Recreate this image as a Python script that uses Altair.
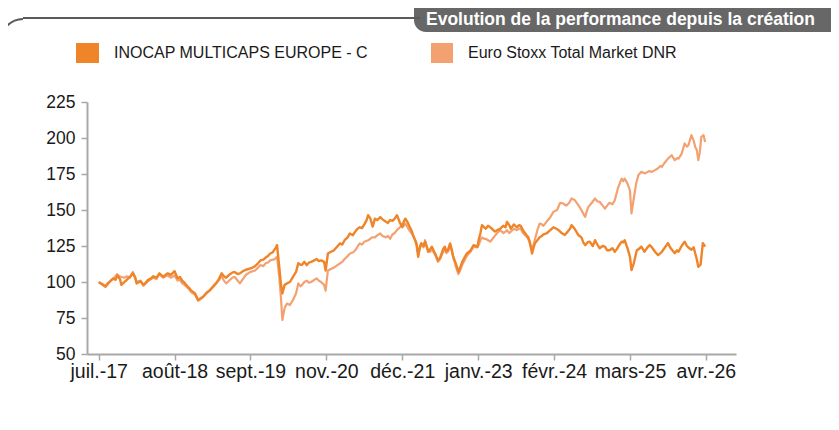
import json
import altair as alt
import pandas as pd

# ---------------- data ----------------
series_names = ["INOCAP MULTICAPS EUROPE - C", "Euro Stoxx Total Market DNR"]
series_colors = ["#EF8428", "#F4A172"]
tick_labels = ["juil.-17", "août-18", "sept.-19", "nov.-20", "déc.-21",
               "janv.-23", "févr.-24", "mars-25", "avr.-26"]
y_ticks = [50, 75, 100, 125, 150, 175, 200, 225]
header_text = "Evolution de la performance depuis la création"

# position along the time axis, in tick intervals (0 = juil.-17 ... 8 = avr.-26)
fund_t = [0.00, 0.03, 0.05, 0.09, 0.11, 0.13, 0.16, 0.19, 0.22, 0.25, 0.28, 0.30, 0.33, 0.37, 0.41,
          0.45, 0.48, 0.50, 0.55, 0.59, 0.62, 0.65, 0.69, 0.72, 0.76, 0.80, 0.85, 0.88, 0.91, 0.95,
          1.00, 1.04, 1.07, 1.10, 1.13, 1.16, 1.19, 1.22, 1.27, 1.31, 1.34, 1.38, 1.42, 1.46, 1.50,
          1.55, 1.58, 1.62, 1.65, 1.68, 1.72, 1.76, 1.79, 1.83, 1.86, 1.90, 1.94, 2.00, 2.03, 2.06,
          2.10, 2.13, 2.17, 2.20, 2.23, 2.26, 2.29, 2.31, 2.33, 2.35, 2.38, 2.40, 2.42, 2.45, 2.48,
          2.52, 2.56, 2.60, 2.63, 2.66, 2.68, 2.71, 2.74, 2.77, 2.80, 2.84, 2.87, 2.90, 2.93, 2.97,
          2.99, 3.02, 3.06, 3.10, 3.14, 3.18, 3.21, 3.24, 3.28, 3.31, 3.35, 3.38, 3.41, 3.44, 3.47,
          3.50, 3.53, 3.55, 3.58, 3.61, 3.64, 3.67, 3.71, 3.74, 3.78, 3.81, 3.84, 3.87, 3.90, 3.93,
          3.97, 4.00, 4.02, 4.04, 4.07, 4.09, 4.12, 4.15, 4.17, 4.19, 4.21, 4.23, 4.25, 4.28, 4.30,
          4.32, 4.34, 4.37, 4.39, 4.42, 4.44, 4.47, 4.50, 4.52, 4.54, 4.56, 4.58, 4.60, 4.63, 4.65,
          4.67, 4.69, 4.71, 4.74, 4.77, 4.79, 4.82, 4.85, 4.88, 4.90, 4.94, 4.99, 5.01, 5.03, 5.05,
          5.08, 5.10, 5.13, 5.16, 5.19, 5.22, 5.25, 5.29, 5.33, 5.36, 5.38, 5.41, 5.43, 5.47, 5.51,
          5.54, 5.56, 5.59, 5.63, 5.66, 5.68, 5.71, 5.73, 5.75, 5.78, 5.81, 5.84, 5.86, 5.90, 5.95,
          5.99, 6.03, 6.06, 6.10, 6.14, 6.18, 6.21, 6.23, 6.27, 6.32, 6.36, 6.39, 6.41, 6.44, 6.47,
          6.51, 6.54, 6.57, 6.60, 6.64, 6.67, 6.70, 6.73, 6.77, 6.80, 6.83, 6.85, 6.89, 6.91, 6.93,
          6.97, 7.00, 7.02, 7.05, 7.09, 7.12, 7.15, 7.19, 7.23, 7.26, 7.29, 7.33, 7.37, 7.40, 7.42,
          7.46, 7.50, 7.53, 7.55, 7.59, 7.62, 7.64, 7.68, 7.72, 7.75, 7.77, 7.81, 7.84, 7.86, 7.88,
          7.90, 7.93, 7.96, 7.99]
fund_v = [100.0, 99.0, 98.5, 97.0, 98.5, 99.5, 101.0, 102.5, 101.5, 104.5, 102.0, 98.0, 99.5, 101.5, 103.5,
          106.0, 103.0, 99.0, 100.5, 98.0, 99.5, 101.5, 102.5, 104.0, 103.0, 106.0, 103.5, 105.0, 106.0, 105.0,
          107.5, 102.5, 103.5, 101.0, 99.5, 97.5, 96.0, 94.0, 92.0, 87.5, 88.5, 90.0, 92.5, 94.0, 96.5,
          99.5, 101.5, 106.0, 104.0, 103.0, 105.0, 106.5, 107.0, 105.5, 106.0, 107.5, 108.5, 109.5, 110.0, 111.0,
          113.0, 115.0, 115.5, 117.0, 118.0, 119.8, 120.5, 122.0, 123.5, 125.6, 110.0, 99.0, 92.0, 98.0, 99.0,
          100.0, 103.6, 107.0, 113.0, 112.0, 112.0, 114.0, 111.7, 113.5, 114.0, 115.0, 116.0, 114.5, 115.0, 114.0,
          108.0, 119.8, 121.0, 122.0, 124.5, 126.8, 126.0, 129.0, 131.0, 133.7, 132.5, 135.0, 137.0, 138.0, 137.5,
          140.0, 143.0, 146.4, 144.0, 138.5, 144.0, 143.0, 145.0, 143.5, 142.0, 141.0, 143.0, 142.5, 144.0, 146.4,
          141.0, 138.0, 142.0, 144.0, 141.5, 139.0, 136.0, 131.4, 129.0, 125.0, 117.5, 124.0, 127.0, 125.0, 128.0,
          125.0, 121.0, 123.0, 124.5, 121.0, 119.0, 115.0, 117.0, 120.0, 123.0, 124.5, 121.5, 122.0, 126.8, 123.0,
          118.0, 115.0, 112.0, 107.0, 111.0, 114.0, 117.0, 119.8, 121.0, 122.0, 125.6, 124.5, 130.0, 134.0, 139.5,
          138.0, 137.0, 139.0, 138.0, 136.5, 135.0, 136.0, 137.0, 139.0, 138.0, 141.8, 139.5, 137.0, 140.0, 138.0,
          139.5, 139.0, 136.0, 133.0, 131.0, 128.0, 119.8, 124.0, 127.0, 129.0, 131.0, 132.0, 133.0, 133.7, 136.0,
          138.0, 137.0, 136.0, 134.0, 132.6, 135.0, 137.0, 139.5, 137.0, 132.6, 131.0, 127.0, 125.6, 127.5, 128.0,
          125.0, 129.0, 126.0, 123.5, 125.0, 124.6, 122.0, 122.0, 123.5, 121.0, 123.0, 125.0, 128.0, 127.5, 129.0,
          123.0, 117.5, 108.3, 113.0, 122.0, 123.0, 124.6, 121.0, 124.0, 125.6, 124.0, 121.0, 118.7, 120.0, 121.0,
          124.0, 127.0, 124.0, 122.5, 120.0, 122.0, 121.0, 125.0, 128.0, 125.0, 124.0, 122.4, 124.0, 119.8, 116.0,
          110.6, 112.0, 127.0, 124.6]

bench_t = [0.00, 0.03, 0.05, 0.09, 0.13, 0.16, 0.19, 0.24, 0.27, 0.30, 0.34, 0.37, 0.41, 0.45, 0.48,
           0.50, 0.55, 0.59, 0.62, 0.65, 0.69, 0.72, 0.76, 0.80, 0.85, 0.88, 0.91, 0.95, 1.00, 1.04,
           1.07, 1.10, 1.13, 1.16, 1.19, 1.22, 1.27, 1.31, 1.34, 1.38, 1.42, 1.46, 1.50, 1.55, 1.58,
           1.62, 1.65, 1.68, 1.72, 1.76, 1.79, 1.83, 1.86, 1.90, 1.94, 2.00, 2.03, 2.06, 2.10, 2.13,
           2.17, 2.20, 2.23, 2.26, 2.29, 2.31, 2.33, 2.35, 2.38, 2.40, 2.42, 2.45, 2.48, 2.52, 2.56,
           2.60, 2.63, 2.66, 2.68, 2.71, 2.74, 2.77, 2.80, 2.84, 2.87, 2.90, 2.93, 2.97, 2.99, 3.02,
           3.06, 3.10, 3.14, 3.18, 3.21, 3.24, 3.28, 3.31, 3.35, 3.38, 3.41, 3.44, 3.47, 3.50, 3.55,
           3.58, 3.60, 3.64, 3.67, 3.71, 3.74, 3.78, 3.81, 3.84, 3.87, 3.90, 3.93, 3.97, 4.00, 4.02,
           4.04, 4.07, 4.09, 4.12, 4.15, 4.17, 4.19, 4.21, 4.23, 4.25, 4.28, 4.30, 4.32, 4.34, 4.37,
           4.39, 4.42, 4.44, 4.47, 4.50, 4.52, 4.54, 4.56, 4.58, 4.60, 4.63, 4.65, 4.67, 4.69, 4.71,
           4.74, 4.77, 4.79, 4.82, 4.85, 4.88, 4.90, 4.94, 4.99, 5.01, 5.03, 5.05, 5.08, 5.10, 5.13,
           5.16, 5.19, 5.22, 5.25, 5.29, 5.33, 5.36, 5.38, 5.41, 5.43, 5.47, 5.51, 5.54, 5.56, 5.59,
           5.63, 5.66, 5.68, 5.71, 5.73, 5.75, 5.78, 5.81, 5.84, 5.86, 5.90, 5.95, 5.99, 6.04, 6.08,
           6.12, 6.16, 6.20, 6.23, 6.27, 6.32, 6.36, 6.39, 6.41, 6.43, 6.45, 6.49, 6.54, 6.57, 6.60,
           6.64, 6.67, 6.70, 6.73, 6.77, 6.80, 6.84, 6.87, 6.89, 6.91, 6.93, 6.97, 7.00, 7.02, 7.05,
           7.08, 7.11, 7.15, 7.20, 7.25, 7.29, 7.33, 7.37, 7.40, 7.42, 7.46, 7.50, 7.55, 7.59, 7.62,
           7.64, 7.68, 7.72, 7.75, 7.77, 7.81, 7.84, 7.86, 7.88, 7.90, 7.92, 7.94, 7.97, 7.99]
bench_v = [99.5, 99.0, 98.0, 96.5, 99.0, 101.0, 102.0, 105.5, 104.0, 103.5, 103.0, 104.0, 103.0, 107.0, 103.5,
           100.0, 101.0, 97.5, 99.0, 100.5, 102.0, 103.0, 102.0, 105.5, 103.0, 104.0, 104.5, 103.0, 104.5, 101.0,
           101.5, 99.0, 98.0, 96.5, 95.0, 93.0, 91.0, 87.0, 88.0, 90.0, 92.0, 94.0, 96.0, 99.0, 101.0,
           104.0, 101.0, 99.0, 101.0, 103.0, 103.6, 101.0, 99.0, 102.0, 105.0, 107.0, 107.5, 108.0, 110.0, 111.7,
           111.0, 113.0, 113.5, 115.0, 115.5, 115.5, 116.5, 117.5, 103.0, 90.0, 73.6, 82.0, 85.0, 84.0, 87.5,
           92.0, 99.0, 97.0, 98.0, 100.0, 101.0, 99.5, 100.0, 101.5, 102.5, 101.0, 100.0, 98.0, 94.0, 108.0,
           109.0, 110.0, 111.5, 113.0, 114.0, 116.0, 118.0, 119.8, 120.5, 122.0, 124.5, 126.8, 126.0, 128.0, 129.0,
           130.0, 131.0, 131.0, 132.5, 133.7, 132.0, 131.0, 132.0, 130.0, 133.0, 134.0, 136.0, 138.0, 140.6, 139.0,
           140.6, 138.0, 136.0, 134.0, 131.4, 129.0, 127.0, 119.0, 123.0, 126.0, 124.0, 129.0, 125.0, 122.0, 121.0,
           123.0, 120.0, 118.0, 114.0, 116.0, 119.0, 121.0, 123.0, 120.0, 121.0, 125.0, 122.0, 117.0, 114.0, 110.0,
           105.5, 109.0, 112.0, 115.0, 118.0, 120.0, 121.0, 124.5, 124.0, 126.0, 129.0, 131.0, 130.0, 130.0, 129.0,
           128.0, 130.0, 132.0, 134.0, 136.0, 134.0, 135.0, 136.0, 134.0, 135.0, 137.0, 136.0, 137.0, 137.0, 134.0,
           132.0, 130.0, 126.8, 122.0, 126.0, 130.0, 136.0, 140.6, 140.0, 139.0, 141.8, 145.0, 148.7, 150.0, 155.0,
           154.5, 153.0, 155.0, 158.0, 157.0, 153.4, 150.0, 147.0, 145.2, 149.0, 152.0, 154.5, 158.0, 156.0, 155.7,
           153.0, 151.0, 153.0, 155.0, 154.0, 156.8, 165.0, 169.0, 171.8, 170.0, 171.8, 168.0, 163.7, 147.6, 158.0,
           168.0, 174.2, 176.5, 175.4, 177.0, 176.5, 177.7, 179.0, 180.5, 180.0, 183.0, 185.7, 188.0, 184.6, 186.0,
           185.7, 189.0, 196.2, 194.0, 195.0, 202.0, 198.0, 193.8, 191.7, 184.6, 190.0, 200.8, 202.0, 197.3]

fund_df = pd.DataFrame({"t": fund_t, "v": fund_v, "serie": series_names[0]})
bench_df = pd.DataFrame({"t": bench_t, "v": bench_v, "serie": series_names[1]})

# ---------------- encodings ----------------
label_expr = json.dumps(tick_labels, ensure_ascii=False) + "[round(datum.value)]"

x_enc = alt.X("t:Q",
              scale=alt.Scale(domain=[-0.154, 8.397], nice=False, zero=False),
              axis=alt.Axis(values=list(range(len(tick_labels))), labelExpr=label_expr,
                            title=None, grid=False, domainColor="#A8A8A8", domainWidth=2,
                            tickColor="#A8A8A8", tickWidth=1.5, tickSize=6,
                            labelFontSize=19.5, labelColor="#1a1a1a", labelPadding=2,
                            labelFont="Liberation Sans", labelFlush=False, labelOverlap=False))
y_enc = alt.Y("v:Q",
              scale=alt.Scale(domain=[50, 225], nice=False, zero=False),
              axis=alt.Axis(values=y_ticks, title=None, grid=False, domainColor="#A8A8A8",
                            domainWidth=2, tickColor="#A8A8A8", tickWidth=1.5, tickSize=6,
                            labelFontSize=17.5, labelColor="#1a1a1a", labelPadding=6,
                            labelFont="Liberation Sans"))
stroke_enc = alt.Stroke("serie:N",
                        scale=alt.Scale(domain=series_names, range=series_colors),
                        legend=None)

bench_line = alt.Chart(bench_df).mark_line(strokeWidth=2.2, strokeJoin="round").encode(
    x=x_enc, y=y_enc, stroke=stroke_enc)
fund_line = alt.Chart(fund_df).mark_line(strokeWidth=2.4, strokeJoin="round").encode(
    x=x_enc, y=y_enc, stroke=stroke_enc)

# ---------------- legend (drawn as marks, top of the frame) ----------------
deco = pd.DataFrame({"k": [0]})
leg_sq1 = alt.Chart(deco).mark_rect(color=series_colors[0]).encode(
    x=alt.value(-11), x2=alt.value(12), y=alt.value(-59), y2=alt.value(-39))
leg_tx1 = alt.Chart(deco).mark_text(text=series_names[0], fontSize=16, font="Liberation Sans",
                                    color="#1a1a1a", align="left", baseline="middle").encode(
    x=alt.value(27), y=alt.value(-49))
leg_sq2 = alt.Chart(deco).mark_rect(color=series_colors[1]).encode(
    x=alt.value(344), x2=alt.value(366), y=alt.value(-59), y2=alt.value(-39))
leg_tx2 = alt.Chart(deco).mark_text(text=series_names[1], fontSize=16, font="Liberation Sans",
                                    color="#1a1a1a", align="left", baseline="middle").encode(
    x=alt.value(381), y=alt.value(-49))

# ---------------- decorative frame (header tab) ----------------
header_rect = alt.Chart(deco).mark_rect(color="#676767", cornerRadius=12).encode(
    x=alt.value(327), x2=alt.value(760), y=alt.value(-110), y2=alt.value(-70))
frame_line = alt.Chart(deco).mark_rule(color="#5a5a5a", strokeWidth=2).encode(
    x=alt.value(-64), x2=alt.value(333), y=alt.value(-84))
frame_corner = alt.Chart(deco).mark_arc(color="#5a5a5a", theta=4.712, theta2=6.283,
                                        radius=23, radius2=21).encode(
    x=alt.value(-64), y=alt.value(-61))
header = alt.Chart(deco).mark_text(text=header_text, color="white", fontSize=17.5,
                                   fontWeight="bold", font="Liberation Sans",
                                   align="left", baseline="alphabetic").encode(
    x=alt.value(339), y=alt.value(-77))

chart = alt.layer(
    header_rect, frame_line, frame_corner, header,
    leg_sq1, leg_tx1, leg_sq2, leg_tx2,
    bench_line, fund_line
).properties(
    width=649, height=252,
    autosize=alt.AutoSizeParams(type="none"),
    padding={"left": 79, "top": 94, "right": 95, "bottom": 60},
    background="white",
).configure_view(stroke=None)

chart.save("out.html", embed_options={"renderer": "svg", "actions": False})
